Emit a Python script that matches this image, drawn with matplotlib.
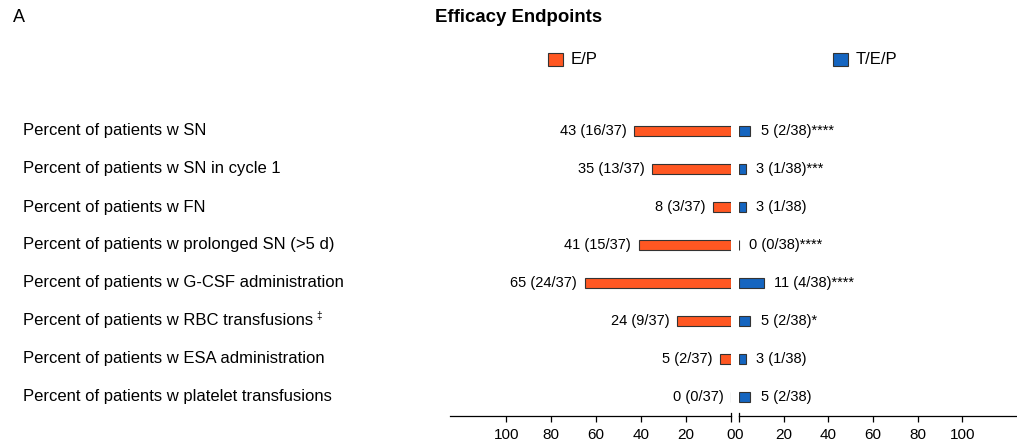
import numpy as np
import matplotlib
matplotlib.use("Agg")
import matplotlib.pyplot as plt

plt.rcParams["font.family"] = ["Liberation Sans", "DejaVu Sans"]

categories = [
    "Percent of patients w SN",
    "Percent of patients w SN in cycle 1",
    "Percent of patients w FN",
    "Percent of patients w prolonged SN (>5 d)",
    "Percent of patients w G-CSF administration",
    "Percent of patients w RBC transfusions",
    "Percent of patients w ESA administration",
    "Percent of patients w platelet transfusions",
]
footnote = [False, False, False, False, False, True, False, False]

ep_values = [43, 35, 8, 41, 65, 24, 5, 0]
ep_labels = ["43 (16/37)", "35 (13/37)", "8 (3/37)", "41 (15/37)",
             "65 (24/37)", "24 (9/37)", "5 (2/37)", "0 (0/37)"]
tep_values = [5, 3, 3, 0, 11, 5, 3, 5]
tep_labels = ["5 (2/38)", "3 (1/38)", "3 (1/38)", "0 (0/38)",
              "11 (4/38)", "5 (2/38)", "3 (1/38)", "5 (2/38)"]
stars = ["****", "***", "", "****", "****", "*", "", ""]

ticks = [0, 20, 40, 60, 80, 100]

ORANGE = "#FF5722"
BLUE = "#1565C0"
EDGE = "#333333"

W, H = 1017, 441
fig = plt.figure(figsize=(W / 100, H / 100), dpi=100)


def px_rect(x0, x1, y_top, y_bot):
    return [x0 / W, (H - y_bot) / H, (x1 - x0) / W, (y_bot - y_top) / H]


ax_l = fig.add_axes(px_rect(450, 731, 112, 416))
ax_r = fig.add_axes(px_rect(739, 1017, 112, 416))

y = np.arange(len(categories))
bar_h = 0.26

ax_l.barh(y, ep_values, height=bar_h, color=ORANGE, edgecolor=EDGE, linewidth=0.8)
ax_r.barh(y, tep_values, height=bar_h, color=BLUE, edgecolor=EDGE, linewidth=0.8)

ax_l.set_xlim(125, 0)
ax_r.set_xlim(0, 124.5)

for ax in (ax_l, ax_r):
    ax.set_ylim(len(categories) - 0.5, -0.5)
    ax.set_yticks([])
    for s in ("top", "left", "right"):
        ax.spines[s].set_visible(False)
    ax.spines["bottom"].set_linewidth(0.9)
    ax.set_xticks(ticks)
    ax.tick_params(axis="x", labelsize=11, length=4, width=0.9, pad=4.5)
    # small upward tick at the zero end of each half-axis
    ax.plot([0, 0], [len(categories) - 0.5, len(categories) - 0.58],
            color="black", lw=0.9, clip_on=False)

for i in range(len(categories)):
    ax_l.annotate(ep_labels[i], xy=(ep_values[i], i), xytext=(-5.5, 0),
                  textcoords="offset points", ha="right", va="center", fontsize=10.5)
    ax_r.annotate(tep_labels[i] + stars[i], xy=(tep_values[i], i), xytext=(7.5, 0),
                  textcoords="offset points", ha="left", va="center", fontsize=10.5)

# row labels
fig.canvas.draw()
for i, cat in enumerate(categories):
    yy = 1 - (131 + 38 * i) / H
    t = fig.text(23 / W, yy, cat, ha="left", va="center", fontsize=12)
    if footnote[i]:
        bb = t.get_window_extent(renderer=fig.canvas.get_renderer())
        fig.text((bb.x1 + 3) / W, (bb.y1 + 2) / H, "\u2021", fontsize=7,
                 ha="left", va="top")

fig.text(13 / W, 1 - 18 / H, "A", fontsize=13, ha="left", va="center")
fig.text(519 / W, 1 - 17 / H, "Efficacy Endpoints", fontsize=13.4,
         fontweight="bold", ha="center", va="center")

# legend-like markers
for x, lab, col in [(548, "E/P", ORANGE), (833, "T/E/P", BLUE)]:
    fig.patches.append(plt.Rectangle((x / W, 1 - 66 / H), 15 / W, 13 / H,
                                     transform=fig.transFigure, facecolor=col,
                                     edgecolor=EDGE, linewidth=0.8))
    fig.text((x + 23) / W, 1 - 59.5 / H, lab, fontsize=12, ha="left", va="center")

fig.savefig("out.png", dpi=100)
